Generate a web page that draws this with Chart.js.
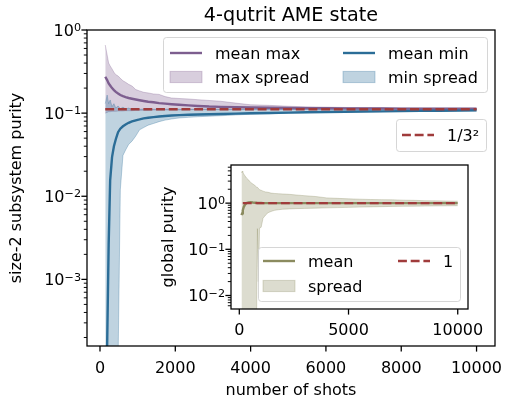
<!DOCTYPE html>
<html>
<head>
<meta charset="utf-8">
<script src="https://cdn.jsdelivr.net/npm/chart.js@4.4.0/dist/chart.umd.min.js"></script>
<style>
  html, body { margin: 0; padding: 0; background: #fff; }
  #wrap { position: relative; width: 506px; height: 405px; }
  #main { position: absolute; left: 0; top: 0; }
  #inset { position: absolute; left: 140px; top: 155px; }
</style>
</head>
<body>
<div id="wrap">
  <canvas id="main" width="506" height="405"></canvas>
  <canvas id="inset" width="350" height="185"></canvas>
</div>
<script>
/* global Chart */
{
  // ---- data: size-2 subsystem purity (main plot)
  const shots = [140, 190, 230, 270, 320, 370, 420, 480, 540, 610,
    680, 760, 850, 950, 1050, 1160, 1280, 1420, 1570, 1730,
    1900, 2100, 2350, 2600, 2900, 3200, 3600, 4000, 4500, 5000,
    5500, 6000, 6500, 7000, 7500, 8000, 8500, 9000, 9500, 10000];

  const maxMean = [0.274, 0.25, 0.228, 0.215, 0.200, 0.189, 0.180, 0.172, 0.165, 0.160,
    0.156, 0.152, 0.149, 0.146, 0.143, 0.140, 0.137, 0.135, 0.132, 0.130,
    0.128, 0.126, 0.124, 0.122, 0.120, 0.119, 0.118, 0.117, 0.116, 0.1155,
    0.115, 0.1145, 0.114, 0.1138, 0.1135, 0.1133, 0.1131, 0.113, 0.1128, 0.1127];
  const maxUpper = [0.66, 0.50, 0.40, 0.37, 0.34, 0.31, 0.29, 0.28, 0.262, 0.245,
    0.235, 0.222, 0.212, 0.192, 0.185, 0.178, 0.175, 0.170, 0.168, 0.158,
    0.152, 0.150, 0.148, 0.145, 0.142, 0.139, 0.132, 0.126, 0.124, 0.121,
    0.119, 0.118, 0.117, 0.1165, 0.116, 0.1155, 0.115, 0.1148, 0.1145, 0.1143];
  const maxLower = [0.100, 0.102, 0.104, 0.104, 0.105, 0.105, 0.105, 0.106, 0.106, 0.106,
    0.107, 0.107, 0.107, 0.108, 0.108, 0.108, 0.108, 0.109, 0.109, 0.109,
    0.109, 0.109, 0.110, 0.110, 0.110, 0.110, 0.110, 0.1105, 0.1105, 0.1105,
    0.1105, 0.111, 0.111, 0.111, 0.111, 0.111, 0.111, 0.111, 0.111, 0.111];

  const minMean = [1e-5, 1.6e-4, 2.6e-3, 0.0155, 0.0296, 0.040, 0.0485, 0.059, 0.065, 0.0695,
    0.073, 0.0765, 0.0795, 0.082, 0.084, 0.0865, 0.088, 0.0895, 0.091, 0.0925,
    0.0935, 0.0945, 0.0955, 0.0962, 0.097, 0.0975, 0.0985, 0.0995, 0.1005, 0.1015,
    0.1023, 0.103, 0.1037, 0.1045, 0.105, 0.1057, 0.1063, 0.1068, 0.1073, 0.1078];
  const minUpper = [0.13, 0.165, 0.13, 0.144, 0.12, 0.13, 0.115, 0.122, 0.113, 0.118,
    0.112, 0.115, 0.111, 0.113, 0.111, 0.112, 0.1115, 0.1115, 0.1115, 0.1115,
    0.1115, 0.1115, 0.1115, 0.1115, 0.1115, 0.1115, 0.1115, 0.1115, 0.1115, 0.1115,
    0.1115, 0.1115, 0.1115, 0.1115, 0.1115, 0.1115, 0.1115, 0.1115, 0.1115, 0.1115];
  const minLower = [1e-4, 1e-4, 1e-4, 1e-4, 1e-4, 1e-4, 1e-4, 1e-4, 0.012, 0.031,
    0.036, 0.042, 0.046, 0.053, 0.063, 0.067, 0.0717, 0.075, 0.079, 0.0824,
    0.085, 0.0875, 0.089, 0.0905, 0.0918, 0.093, 0.095, 0.097, 0.0985, 0.1,
    0.1015, 0.103, 0.1035, 0.104, 0.1045, 0.105, 0.1053, 0.1056, 0.1058, 0.106];

  const idealShots = [140, 10000];
  const idealSub = [1 / 9, 1 / 9];

  // ---- data: global purity (inset)
  const gShots = [100, 130, 160, 200, 260, 330, 420, 520, 620, 720,
    780, 830, 870, 930, 1000, 1085, 1200, 1315, 1450, 1620,
    1800, 2000, 2300, 2600, 3000, 3500, 4000, 4500, 5000, 5500,
    6000, 6500, 7000, 7500, 8000, 8500, 9000, 9500, 10000];
  const gMean = [0.55, 0.6, 0.7, 0.82, 0.93, 1.0, 1.04, 1.05, 1.03, 1.02,
    1.02, 1.01, 1.01, 1.01, 1.01, 1.0, 1.0, 1.0, 1.0, 1.0,
    1.0, 1.0, 1.0, 1.0, 1.0, 1.0, 1.0, 1.0, 1.0, 1.0,
    1.0, 1.0, 1.0, 1.0, 1.0, 1.0, 1.0, 1.0, 1.0];
  const gUpper = [4.5, 4.9, 4.7, 4.3, 3.9, 3.5, 3.2, 2.8, 2.6, 2.4,
    2.25, 2.2, 2.1, 1.95, 1.9, 1.82, 1.75, 1.72, 1.65, 1.62,
    1.6, 1.58, 1.55, 1.5, 1.45, 1.39, 1.3, 1.27, 1.24, 1.22,
    1.2, 1.19, 1.18, 1.16, 1.15, 1.13, 1.12, 1.11, 1.1];
  const gLower = [1e-3, 1e-3, 1e-3, 1e-3, 1e-3, 1e-3, 1e-3, 1e-3, 1e-3, 1e-3,
    1e-3, 0.28, 0.02, 0.29, 0.3, 0.47, 0.55, 0.62, 0.66, 0.7,
    0.72, 0.74, 0.75, 0.76, 0.77, 0.78, 0.79, 0.8, 0.81, 0.82,
    0.83, 0.84, 0.85, 0.855, 0.86, 0.865, 0.87, 0.875, 0.88];
  const gIdealShots = [160, 10000];
  const gIdeal = [1, 1];

  // tick labels
  const mainXTicks = [0, 2000, 4000, 6000, 8000, 10000];
  const insetXTicks = [0, 5000, 10000];

  // ---- styles
  const FAMILY = "'DejaVu Sans', 'Liberation Sans', sans-serif";
  const PURPLE = '#7d5e8f';
  const PURPLE_BAND = 'rgba(125, 94, 143, 0.3)';
  const BLUE = '#2b6d97';
  const BLUE_BAND = 'rgba(43, 109, 151, 0.3)';
  const RED = '#a03b3b';
  const OLIVE = '#8b8b5f';
  const OLIVE_BAND = 'rgba(139, 139, 95, 0.3)';
  const DASH = [8.9, 3.8];

  function pts(xs, ys) {
    return xs.map(function (x, i) { return { x: x, y: ys[i] }; });
  }

  function logTicks(min, max) {
    const out = [];
    for (let e = Math.floor(Math.log10(min)); e <= Math.ceil(Math.log10(max)); e++) {
      for (let m = 1; m < 10; m++) {
        const v = m * Math.pow(10, e);
        if (v >= min * 0.999 && v <= max * 1.001) out.push({ value: v, major: m === 1, exp: e });
      }
    }
    return out;
  }

  function line(data, color, width, dashed) {
    return {
      data: data, borderColor: color, borderWidth: width, borderDash: dashed ? DASH : [],
      fill: false, pointRadius: 0, clip: 0, borderCapStyle: 'butt'
    };
  }

  function band(data, color, target) {
    return {
      data: data, borderColor: color, backgroundColor: color, borderWidth: 1,
      fill: target === undefined ? false : target, pointRadius: 0, clip: 0
    };
  }

  function drawLegend(ctx, box, items) {
    ctx.save();
    ctx.beginPath();
    ctx.roundRect(box.x + 0.5, box.y + 0.5, box.w, box.h, 3);
    ctx.fillStyle = 'rgba(255,255,255,0.8)';
    ctx.fill();
    ctx.strokeStyle = 'rgba(204,204,204,0.8)';
    ctx.lineWidth = 1;
    ctx.stroke();
    ctx.font = '16px ' + FAMILY;
    ctx.textBaseline = 'alphabetic';
    ctx.textAlign = 'left';
    for (let it of items) {
      if (it.kind === 'patch') {
        ctx.fillStyle = it.color;
        ctx.fillRect(it.x, it.y - 5.6, 32, 11.2);
        ctx.strokeStyle = it.color;
        ctx.lineWidth = 1;
        ctx.strokeRect(it.x, it.y - 5.6, 32, 11.2);
      } else {
        ctx.beginPath();
        ctx.setLineDash(it.kind === 'dash' ? DASH : []);
        ctx.strokeStyle = it.color;
        ctx.lineWidth = 2.4;
        ctx.moveTo(it.x, it.y);
        ctx.lineTo(it.x + 32, it.y);
        ctx.stroke();
        ctx.setLineDash([]);
      }
      ctx.fillStyle = '#000';
      ctx.fillText(it.label, it.x + 45, it.y + 5.5);
    }
    ctx.restore();
  }

  // "10" with a raised exponent, right aligned at x
  function drawPower(ctx, x, y, e) {
    const expText = String(e).replace('-', '\u2212');
    ctx.font = '11.2px ' + FAMILY;
    const we = ctx.measureText(expText).width;
    ctx.font = '16px ' + FAMILY;
    const wb = ctx.measureText('10').width;
    ctx.textAlign = 'left';
    ctx.textBaseline = 'alphabetic';
    ctx.fillText('10', x - we - wb, y + 5.8);
    ctx.font = '11.2px ' + FAMILY;
    ctx.fillText(expText, x - we, y + 1.2);
  }

  // frame, tick marks, tick powers, titles and legends
  function decor(spec) {
    return {
      id: spec.id,
      beforeDraw(chart) {
        if (!spec.whiteArea) return;
        const a = chart.chartArea;
        chart.ctx.save();
        chart.ctx.fillStyle = '#fff';
        chart.ctx.fillRect(a.left, a.top, a.right - a.left, a.bottom - a.top);
        chart.ctx.restore();
      },
      afterDraw(chart) {
        const ctx = chart.ctx;
        const a = chart.chartArea;
        const xs = chart.scales.x;
        const ys = chart.scales.y;
        ctx.save();
        ctx.strokeStyle = '#000';
        ctx.fillStyle = '#000';
        for (let t of xs.ticks) {
          const px = xs.getPixelForValue(t.value);
          ctx.lineWidth = 1.28;
          ctx.beginPath();
          ctx.moveTo(px, a.bottom);
          ctx.lineTo(px, a.bottom + 5.6);
          ctx.stroke();
        }
        for (let t of ys.ticks) {
          const py = ys.getPixelForValue(t.value);
          const len = t.major ? 5.6 : 3.2;
          ctx.lineWidth = t.major ? 1.28 : 0.96;
          ctx.beginPath();
          ctx.moveTo(a.left - len, py);
          ctx.lineTo(a.left, py);
          ctx.stroke();
          if (t.major) drawPower(ctx, a.left - 6, py, t.exp);
        }
        ctx.lineWidth = 1.28;
        ctx.strokeRect(a.left, a.top, a.right - a.left, a.bottom - a.top);

        ctx.textBaseline = 'alphabetic';
        ctx.textAlign = 'center';
        if (spec.title) {
          ctx.font = '19.2px ' + FAMILY;
          ctx.fillText(spec.title, (a.left + a.right) / 2, spec.titleY);
        }
        ctx.font = '16px ' + FAMILY;
        if (spec.xTitle) ctx.fillText(spec.xTitle, (a.left + a.right) / 2, spec.xTitleY);
        if (spec.yTitle) {
          ctx.save();
          ctx.translate(spec.yTitleX, (a.top + a.bottom) / 2);
          ctx.rotate(-Math.PI / 2);
          ctx.fillText(spec.yTitle, 0, 0);
          ctx.restore();
        }
        ctx.restore();
        for (let lg of spec.legends || []) drawLegend(ctx, lg.box, lg.items);
      }
    };
  }

  function scalesFor(cfg) {
    return {
      x: {
        type: 'linear', min: cfg.xMin, max: cfg.xMax,
        grid: { display: false, drawTicks: false }, border: { display: false },
        ticks: {
          color: '#000', font: { family: FAMILY, size: 16 }, padding: cfg.xPad, maxRotation: 0, autoSkip: false,
          callback: function (v) { return String(v); }
        },
        afterBuildTicks: function (s) { s.ticks = cfg.xTicks.map(function (v) { return { value: v }; }); },
        afterFit: function (s) { s.height = cfg.xHeight; s.paddingLeft = 0; s.paddingRight = 0; }
      },
      y: {
        type: 'logarithmic', min: cfg.yMin, max: cfg.yMax,
        grid: { display: false, drawTicks: false }, border: { display: false },
        ticks: { display: false },
        afterBuildTicks: function (s) { s.ticks = logTicks(cfg.yMin, cfg.yMax); },
        afterFit: function (s) { s.width = cfg.yWidth; s.paddingTop = 0; s.paddingBottom = 0; }
      }
    };
  }

  const baseOptions = {
    responsive: false, animation: false, devicePixelRatio: 1,
    plugins: { legend: { display: false }, tooltip: { enabled: false } },
    elements: { line: { tension: 0 }, point: { radius: 0 } }
  };

  //main chart
  new Chart(document.getElementById('main'), {
    type: 'line',
    data: {
      datasets: [
        line(pts(idealShots, idealSub), RED, 2.4, true),
        line(pts(shots, minMean), BLUE, 2.4),
        line(pts(shots, maxMean), PURPLE, 2.4),
        band(pts(shots, minUpper), BLUE_BAND, 4),
        band(pts(shots, minLower), BLUE_BAND),
        band(pts(shots, maxUpper), PURPLE_BAND, 6),
        band(pts(shots, maxLower), PURPLE_BAND)
      ]
    },
    options: Object.assign({}, baseOptions, {
      layout: { padding: { left: 0, right: 11, top: 30, bottom: 0 } },
      scales: scalesFor({
        xMin: -345, xMax: 10490, xTicks: mainXTicks, xHeight: 59, xPad: 13,
        yMin: 1.58e-4, yMax: 1, yWidth: 87
      })
    }),
    plugins: [decor({
      id: 'mainDecor',
      title: '4-qutrit AME state', titleY: 21,
      xTitle: 'number of shots', xTitleY: 395,
      yTitle: 'size-2 subsystem purity', yTitleX: 21,
      legends: [
        {
          box: { x: 163, y: 37, w: 324, h: 55 },
          items: [
            { kind: 'line', color: PURPLE, x: 170, y: 53, label: 'mean max' },
            { kind: 'patch', color: PURPLE_BAND, x: 170, y: 77, label: 'max spread' },
            { kind: 'line', color: BLUE, x: 343, y: 53, label: 'mean min' },
            { kind: 'patch', color: BLUE_BAND, x: 343, y: 77, label: 'min spread' }
          ]
        },
        {
          box: { x: 396, y: 119, w: 90, h: 32 },
          items: [{ kind: 'dash', color: RED, x: 402, y: 135, label: '1/3\u00b2' }]
        }
      ]
    })]
  });

  //inset chart
  const OX = 140, OY = 155;
  new Chart(document.getElementById('inset'), {
    type: 'line',
    data: {
      datasets: [
        line(pts(gIdealShots, gIdeal), RED, 2.4, true),
        line(pts(gShots, gMean), OLIVE, 2.4),
        band(pts(gShots, gUpper), OLIVE_BAND, 3),
        band(pts(gShots, gLower), OLIVE_BAND)
      ]
    },
    options: Object.assign({}, baseOptions, {
      layout: { padding: { left: 0, right: 22, top: 10, bottom: 0 } },
      scales: scalesFor({
        xMin: -380, xMax: 10470, xTicks: insetXTicks, xHeight: 31, xPad: 12,
        yMin: 5.1e-3, yMax: 6.7, yWidth: 91
      })
    }),
    plugins: [decor({
      id: 'insetDecor',
      whiteArea: true,
      yTitle: 'global purity', yTitleX: 173 - OX,
      legends: [
        {
          box: { x: 258 - OX, y: 247 - OY, w: 202, h: 54 },
          items: [
            { kind: 'line', color: OLIVE, x: 263 - OX, y: 261 - OY, label: 'mean' },
            { kind: 'patch', color: OLIVE_BAND, x: 263 - OX, y: 286 - OY, label: 'spread' },
            { kind: 'dash', color: RED, x: 398 - OX, y: 261 - OY, label: '1' }
          ]
        }
      ]
    })]
  });
}
</script>
</body>
</html>
